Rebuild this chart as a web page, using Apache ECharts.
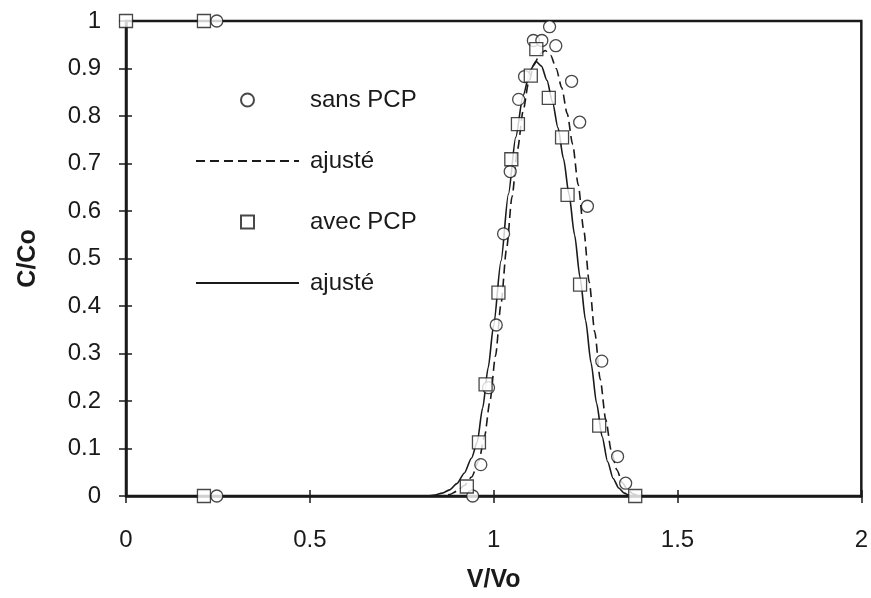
<!DOCTYPE html>
<html>
<head>
<meta charset="utf-8">
<script src="https://cdn.jsdelivr.net/npm/echarts@6/dist/echarts.min.js"></script>
<style>
html,body{margin:0;padding:0;background:#fff;}
#chart{width:871px;height:598px;}
</style>
</head>
<body>
<div id="chart"></div>
<script>
// Measured points: sans PCP (circles)
var sansPCP = [
  [0.247, 1], [0.247, 0],
  [0.943, 0], [0.965, 0.066], [0.986, 0.228], [1.007, 0.360], [1.027, 0.552],
  [1.045, 0.683], [1.068, 0.835], [1.084, 0.883], [1.108, 0.959], [1.131, 0.959],
  [1.152, 0.988], [1.169, 0.948], [1.212, 0.873], [1.234, 0.787], [1.255, 0.610],
  [1.294, 0.284], [1.337, 0.083], [1.359, 0.027]
];
// Measured points: avec PCP (squares)
var avecPCP = [
  [0, 1], [0.212, 1], [0.212, 0],
  [0.927, 0.020], [0.960, 0.113], [0.978, 0.235], [1.013, 0.428], [1.048, 0.709],
  [1.066, 0.783], [1.101, 0.885], [1.116, 0.941], [1.150, 0.838], [1.186, 0.755],
  [1.201, 0.634], [1.235, 0.445], [1.287, 0.148], [1.385, 0]
];
// Fitted curve, sans PCP (dashed)
var fitSans = [
  [0, 0], [0.86, 0], [0.88, 0.003], [0.90, 0.010], [0.92, 0.022], [0.94, 0.040],
  [0.96, 0.075], [0.975, 0.125], [0.99, 0.200], [1.005, 0.295], [1.02, 0.405],
  [1.035, 0.520], [1.05, 0.630], [1.065, 0.730], [1.08, 0.810], [1.095, 0.870],
  [1.11, 0.908], [1.125, 0.930], [1.14, 0.938], [1.155, 0.928], [1.17, 0.900],
  [1.185, 0.860], [1.20, 0.805], [1.215, 0.740], [1.23, 0.655], [1.245, 0.560],
  [1.26, 0.450], [1.275, 0.345], [1.29, 0.245], [1.305, 0.160], [1.32, 0.095],
  [1.335, 0.055], [1.35, 0.028], [1.365, 0.012], [1.38, 0.004], [1.395, 0], [2, 0]
];
// Fitted curve, avec PCP (solid)
var fitAvec = [
  [0, 0], [0.82, 0], [0.84, 0.002], [0.86, 0.006], [0.88, 0.013], [0.90, 0.026],
  [0.92, 0.048], [0.94, 0.080], [0.955, 0.113], [0.97, 0.185], [0.985, 0.270],
  [1.00, 0.360], [1.02, 0.495], [1.04, 0.635], [1.06, 0.755], [1.08, 0.843],
  [1.10, 0.897], [1.115, 0.915], [1.13, 0.905], [1.145, 0.875], [1.16, 0.830],
  [1.175, 0.775], [1.19, 0.710], [1.205, 0.635], [1.22, 0.550], [1.235, 0.460],
  [1.25, 0.370], [1.265, 0.280], [1.28, 0.195], [1.295, 0.125], [1.31, 0.072],
  [1.325, 0.037], [1.34, 0.017], [1.355, 0.006], [1.37, 0.001], [1.385, 0], [2, 0]
];
var legendNames = ['sans PCP', 'ajusté', 'avec PCP', 'ajusté '];

var FONT = 'Liberation Sans';
var INK = '#1a1a1a';
var chart = echarts.init(document.getElementById('chart'), null, {renderer: 'canvas'});

var axisCommon = {
  axisLine: {show: true, lineStyle: {color: INK, width: 2.5}},
  splitLine: {show: false}
};

chart.setOption({
  backgroundColor: '#fff',
  animation: false,
  grid: {left: 126, top: 21, right: 9, bottom: 101, show: true, borderColor: INK, borderWidth: 2.5},
  legend: {
    orient: 'vertical',
    left: 195,
    top: 88,
    padding: 0,
    itemWidth: 103,
    itemHeight: 13,
    itemGap: 37,
    symbolKeepAspect: true,
    data: [
      {name: legendNames[0], icon: 'circle'},
      {name: legendNames[1], itemStyle: {opacity: 0}},
      {name: legendNames[2], icon: 'path://M0,0L10,0L10,10L0,10Z'},
      {name: legendNames[3], itemStyle: {opacity: 0}}
    ],
    textStyle: {fontFamily: FONT, fontSize: 24, color: INK, padding: [0, 0, 0, 6]}
  },
  xAxis: [
    Object.assign({}, axisCommon, {
      type: 'value', min: 0, max: 2, interval: 0.5, position: 'bottom',
      name: 'V/Vo', nameLocation: 'middle', nameGap: 72,
      nameTextStyle: {fontFamily: FONT, fontSize: 25, fontWeight: 'bold', color: INK},
      axisTick: {show: true, inside: false, length: 7, lineStyle: {color: INK, width: 1.5}},
      axisLabel: {fontFamily: FONT, fontSize: 24, color: INK, margin: 32}
    }),
    {
      type: 'value', min: 0, max: 2, interval: 0.5, position: 'bottom', offset: 0,
      axisLine: {show: false}, splitLine: {show: false}, axisLabel: {show: false},
      axisTick: {show: true, inside: true, length: 6, lineStyle: {color: INK, width: 1.5}}
    }
  ],
  yAxis: [
    Object.assign({}, axisCommon, {
      type: 'value', min: 0, max: 1, interval: 0.1, position: 'left',
      name: 'C/Co', nameLocation: 'middle', nameGap: 85,
      nameTextStyle: {fontFamily: FONT, fontSize: 25, fontWeight: 'bold', color: INK},
      axisTick: {show: true, inside: false, length: 7, lineStyle: {color: INK, width: 1.5}},
      axisLabel: {fontFamily: FONT, fontSize: 24, color: INK, margin: 25}
    }),
    {
      type: 'value', min: 0, max: 1, interval: 0.1, position: 'left', offset: 0,
      axisLine: {show: false}, splitLine: {show: false}, axisLabel: {show: false},
      axisTick: {show: true, inside: true, length: 6, lineStyle: {color: INK, width: 1.5}}
    }
  ],
  series: [
    {
      name: legendNames[1], type: 'line', data: fitSans, symbol: 'none', showSymbol: false,
      smooth: 0.25, smoothMonotone: 'x',
      lineStyle: {color: INK, width: 1.6, type: [9, 5]}, itemStyle: {color: INK}, z: 2
    },
    {
      name: legendNames[3], type: 'line', data: fitAvec, symbol: 'none', showSymbol: false,
      smooth: 0.25, smoothMonotone: 'x',
      lineStyle: {color: INK, width: 1.6, type: 'solid'}, itemStyle: {color: INK}, z: 2
    },
    {
      name: legendNames[0], type: 'scatter', data: sansPCP, symbol: 'circle', symbolSize: 12,
      clip: false, itemStyle: {color: '#fff', borderColor: INK, borderWidth: 1.3}, z: 4
    },
    {
      name: legendNames[2], type: 'scatter', data: avecPCP, symbol: 'rect', symbolSize: 13,
      clip: false, itemStyle: {color: '#fff', borderColor: INK, borderWidth: 1.3}, z: 5
    }
  ]
});
</script>
</body>
</html>
